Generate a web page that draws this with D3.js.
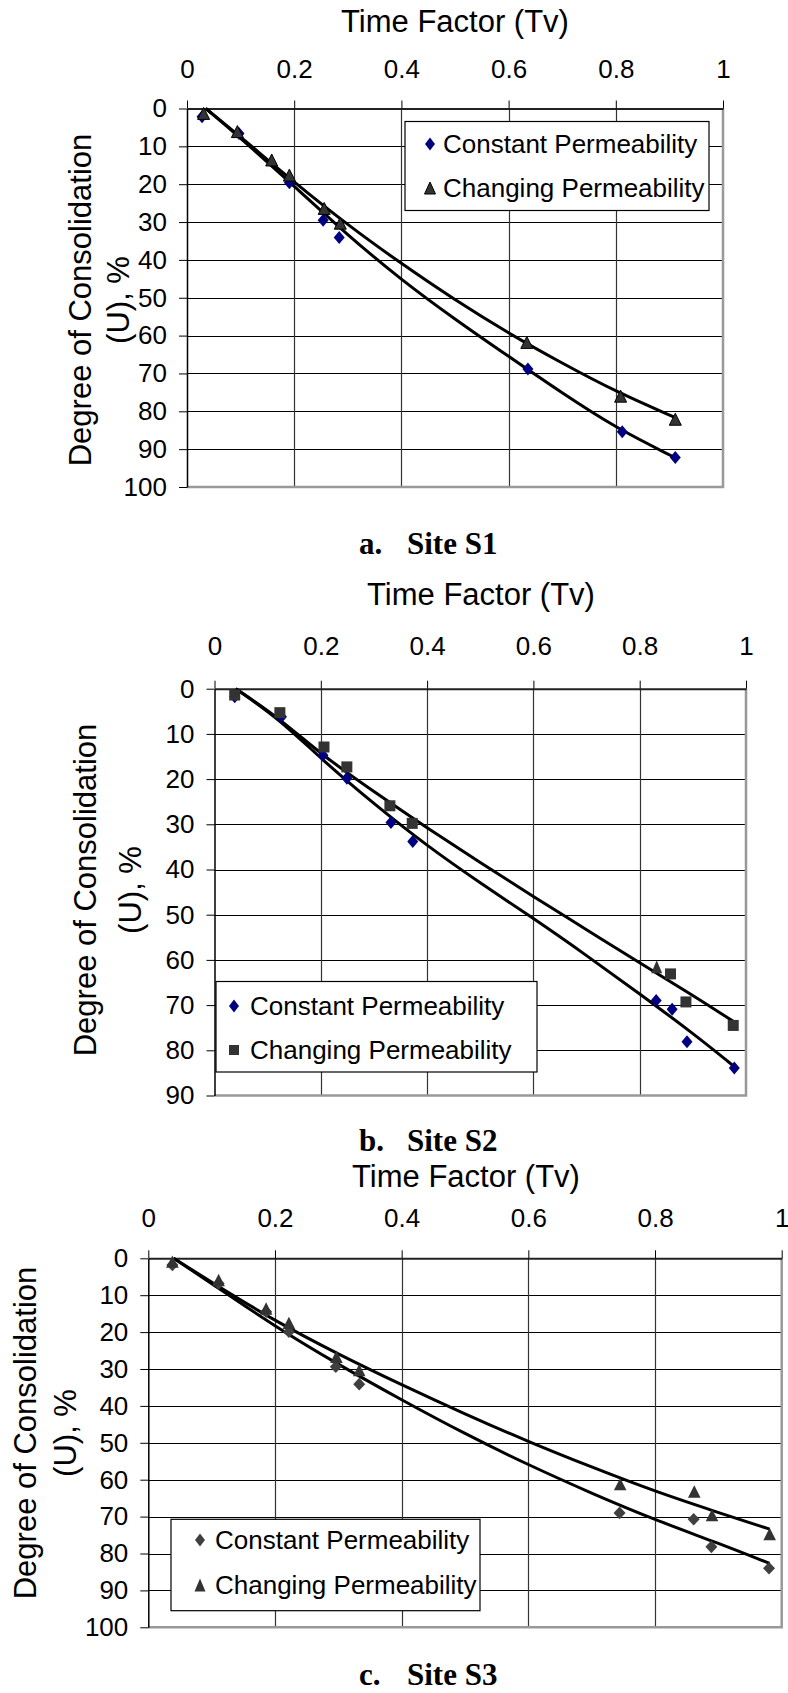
<!DOCTYPE html>
<html>
<head>
<meta charset="utf-8">
<script src="https://cdn.jsdelivr.net/npm/d3@7"></script>
<style>
  body { margin: 0; background: #fff; }
  svg { display: block; }
</style>
</head>
<body>
<svg id="chart" width="788" height="1693"></svg>
<script>
// SHARED
var tvTicks = [0, 0.2, 0.4, 0.6, 0.8, 1];
var uTicks100 = [0, 10, 20, 30, 40, 50, 60, 70, 80, 90, 100];
var uTicks90 = [0, 10, 20, 30, 40, 50, 60, 70, 80, 90];
var seriesNames = ["Constant Permeability", "Changing Permeability"];
var xTitle = "Time Factor (Tv)";
var yTitle = ["Degree of Consolidation", "(U), %"];
var captionLetters = ["a.", "b.", "c."];
var captionSites = ["Site S1", "Site S2", "Site S3"];

// DATA SETS  [Tv, U %]
// Site S1
var s1Constant = [[0.028, 2.2], [0.097, 6.6], [0.191, 19.6], [0.254, 29.5], [0.284, 34.1], [0.636, 68.8], [0.812, 85.4], [0.911, 92.2]];
var s1Changing = [[0.031, 1.3], [0.094, 6.1], [0.158, 13.6], [0.191, 17.6], [0.256, 26.4], [0.286, 30.3], [0.634, 61.8], [0.809, 76.0], [0.911, 82.1]];
var s1ConstantTrend = [[0.035, 0], [0.1, 7.8], [0.2, 20.5], [0.3, 33.5], [0.4, 45.3], [0.5, 55.7], [0.6, 65.5], [0.7, 75.2], [0.8, 84.4], [0.91, 92.2]];
var s1ChangingTrend = [[0.035, 0], [0.1, 7.5], [0.2, 19.5], [0.3, 30.8], [0.4, 41], [0.5, 50.6], [0.6, 59.4], [0.7, 67.3], [0.8, 74.8], [0.91, 81.6]];

// Site S2
var s2Constant = [[0.038, 1.8], [0.126, 6.2], [0.204, 14.7], [0.249, 19.8], [0.332, 29.6], [0.373, 33.8], [0.831, 69.0], [0.861, 70.9], [0.889, 78.1], [0.978, 83.9]];
var s2Changing = [[0.038, 1.4], [0.123, 5.3], [0.206, 12.9], [0.249, 17.3], [0.330, 25.9], [0.372, 29.8], [0.858, 63.1], [0.887, 69.3], [0.976, 74.5]];
var s2ChangingExtra = [[0.832, 61.5]];
var s2ConstantTrend = [[0.04, 0], [0.125, 7], [0.2, 15.5], [0.3, 25.5], [0.4, 34.8], [0.5, 43], [0.6, 50.8], [0.7, 59], [0.8, 67.5], [0.9, 76.2], [0.978, 83.6]];
var s2ChangingTrend = [[0.04, 0], [0.125, 6.8], [0.2, 14.5], [0.3, 22.8], [0.4, 30.8], [0.5, 38.5], [0.6, 46], [0.7, 53.3], [0.8, 60.7], [0.9, 67.8], [0.976, 73.6]];

// Site S3
var s3Constant = [[0.038, 1.8], [0.111, 6.8], [0.186, 14.5], [0.222, 19.9], [0.296, 29.4], [0.333, 34.1], [0.744, 69.0], [0.861, 70.7], [0.889, 78.2], [0.98, 84.0]];
var s3Changing = [[0.038, 0.9], [0.111, 5.9], [0.186, 13.6], [0.222, 17.5], [0.297, 26.7], [0.333, 30.3], [0.745, 61.2], [0.862, 63.2], [0.89, 69.6], [0.981, 74.7]];
var s3ConstantTrend = [[0.04, 0], [0.1, 6.8], [0.2, 18.5], [0.3, 28.8], [0.4, 38.4], [0.5, 47.6], [0.6, 56], [0.7, 63.7], [0.8, 70.9], [0.9, 77.2], [0.981, 82.7]];
var s3ChangingTrend = [[0.04, 0], [0.1, 6.5], [0.2, 17], [0.3, 26], [0.4, 34.3], [0.5, 42.2], [0.6, 49.7], [0.7, 56.6], [0.8, 63.2], [0.9, 68.9], [0.981, 73.4]];

var sans = '"Liberation Sans", Arial, sans-serif';
var serif = '"Liberation Serif", "Times New Roman", serif';

// marker shapes
function diamond(hw, hh) { return `M0,${-hh}L${hw},0L0,${hh}L${-hw},0Z`; }
function triangle(hw, hh) { return `M0,${-hh}L${hw},${hh}L${-hw},${hh}Z`; }
function square(h) { return `M${-h},${-h}H${h}V${h}H${-h}Z`; }

var svg = d3.select("#chart");

function draw_panel(p) {
    var g = svg.append("g");

    var x = d3.scaleLinear()
        .domain([0, 1])
        .range([p.left, p.right]);
    var y = d3.scaleLinear()
        .domain([0, p.uTicks[p.uTicks.length - 1]])
        .range([p.top, p.bottom]);

    // grid
    g.append("g")
        .selectAll("line")
        .data(p.uTicks.slice(1, -1))
        .enter().append("line")
            .attr("x1", p.left).attr("x2", p.right)
            .attr("y1", d => Math.round(y(d)) + 0.5).attr("y2", d => Math.round(y(d)) + 0.5)
            .attr("stroke", "#000").attr("stroke-width", 1.2);
    g.append("g")
        .selectAll("line")
        .data(tvTicks.slice(1, -1))
        .enter().append("line")
            .attr("x1", d => Math.round(x(d)) + 0.5).attr("x2", d => Math.round(x(d)) + 0.5)
            .attr("y1", p.top).attr("y2", p.bottom)
            .attr("stroke", "#333").attr("stroke-width", 1.2);
    // plot border (right and bottom, gray)
    g.append("path")
        .attr("d", `M${x(1)},${p.top}V${y(p.uTicks[p.uTicks.length - 1])}H${p.left}`)
        .attr("fill", "none")
        .attr("stroke", "#999")
        .attr("stroke-width", 2.5);

    // axes
    var xAxis = g.append("g")
        .attr("transform", `translate(0, ${p.top})`)
        .call(d3.axisTop(x).tickValues(tvTicks).tickFormat(d3.format("~g"))
            .tickSize(8).tickSizeOuter(0).tickPadding(p.xLabelGap - 8));
    xAxis.select(".domain").attr("stroke", "#222").attr("stroke-width", 2);
    xAxis.selectAll("text").attr("font-size", 26).attr("font-family", sans);

    var yAxis = g.append("g")
        .attr("transform", `translate(${p.left}, 0)`)
        .call(d3.axisLeft(y).tickValues(p.uTicks).tickSize(8).tickSizeOuter(0).tickPadding(12));
    yAxis.select(".domain").attr("stroke", "#000").attr("stroke-width", 1.5);
    yAxis.selectAll("text").attr("font-size", 26).attr("font-family", sans);

    // titles
    g.append("text")
        .attr("x", p.titleX).attr("y", p.titleY)
        .attr("text-anchor", "middle")
        .attr("font-family", sans).attr("font-size", 31)
        .text(xTitle);
    yTitle.forEach(function (t, i) {
        g.append("text")
            .attr("transform", `translate(${p.yTitleX[i]}, ${p.yTitleY}) rotate(-90)`)
            .attr("text-anchor", "middle")
            .attr("font-family", sans).attr("font-size", 31)
            .text(t);
    });

    // trend lines
    var line = d3.line()
        .curve(d3.curveBasis)
        .x(d => x(d[0]))
        .y(d => y(d[1]));
    p.trends.forEach(function (t) {
        g.append("path")
            .datum(t)
            .attr("fill", "none")
            .attr("stroke", "#000")
            .attr("stroke-width", 3)
            .attr("stroke-linejoin", "round")
            .attr("d", line);
    });

    // markers
    p.series.forEach(function (s) {
        g.append("g")
            .selectAll("path")
            .data(s.data)
            .enter().append("path")
                .attr("transform", d => `translate(${x(d[0])}, ${y(d[1])})`)
                .attr("d", s.shape)
                .attr("fill", s.fill)
                .attr("stroke", s.stroke || "none")
                .attr("stroke-width", 1);
    });

    // legend
    var lg = g.append("g");
    lg.append("rect")
        .attr("x", p.legend.x).attr("y", p.legend.y)
        .attr("width", p.legend.w).attr("height", p.legend.h)
        .attr("fill", "#fff")
        .attr("stroke", "#000")
        .attr("stroke-width", 1.2);
    p.legend.items.forEach(function (s, i) {
        var ry = p.legend.rows[i];
        lg.append("path")
            .attr("transform", `translate(${p.legend.markerX}, ${ry})`)
            .attr("d", s.legendShape)
            .attr("fill", s.fill)
            .attr("stroke", s.stroke || "none");
        lg.append("text")
            .attr("x", p.legend.textX).attr("y", ry)
            .attr("dy", "0.35em")
            .attr("font-family", sans).attr("font-size", 26)
            .text(seriesNames[i]);
    });

    // caption
    var cap = g.append("text")
        .attr("y", p.captionY)
        .attr("font-family", serif).attr("font-size", 31).attr("font-weight", "bold");
    cap.append("tspan").attr("x", 359).text(captionLetters[p.index]);
    cap.append("tspan").attr("x", 407).text(captionSites[p.index]);
}

// PLOT 1
var navyDiamond = {shape: diamond(5.5, 6.5), legendShape: diamond(5, 6.5), fill: "#000080"};
var grayTriangle = {shape: triangle(6, 6), legendShape: triangle(5.5, 6), fill: "#333", stroke: "#000"};

draw_panel({
    index: 0,
    left: 187, right: 723, top: 108.5, bottom: 487,
    uTicks: uTicks100, xLabelGap: 31,
    titleX: 455, titleY: 32,
    yTitleX: [91, 128.5], yTitleY: 300,
    trends: [s1ConstantTrend, s1ChangingTrend],
    series: [
        Object.assign({data: s1Constant}, navyDiamond),
        Object.assign({data: s1Changing}, grayTriangle)
    ],
    legend: {x: 405, y: 121.5, w: 304, h: 89, rows: [144, 188], markerX: 430, textX: 443,
        items: [navyDiamond, grayTriangle]},
    captionY: 554
});

// PLOT 2
var graySquare = {shape: square(5.5), legendShape: square(5), fill: "#333"};
var grayTriangle2 = {shape: triangle(5.5, 6.5), fill: "#333"};

draw_panel({
    index: 1,
    left: 214.5, right: 746, top: 688.7, bottom: 1095.5,
    uTicks: uTicks90, xLabelGap: 34,
    titleX: 481, titleY: 605,
    yTitleX: [96, 141], yTitleY: 890,
    trends: [s2ConstantTrend, s2ChangingTrend],
    series: [
        Object.assign({data: s2Constant}, navyDiamond),
        Object.assign({data: s2ChangingExtra}, grayTriangle2),
        Object.assign({data: s2Changing}, graySquare)
    ],
    legend: {x: 216, y: 981.5, w: 321, h: 90.5, rows: [1006, 1050], markerX: 234, textX: 250,
        items: [navyDiamond, graySquare]},
    captionY: 1151
});

// PLOT 3
var grayDiamond = {shape: diamond(6, 6.3), legendShape: diamond(5, 6.5), fill: "#404040"};
var darkTriangle = {shape: triangle(6.3, 6.2), legendShape: triangle(5.5, 6.5), fill: "#333"};

draw_panel({
    index: 2,
    left: 148.3, right: 781.7, top: 1258.3, bottom: 1627.3,
    uTicks: uTicks100, xLabelGap: 31.5,
    titleX: 466, titleY: 1187,
    yTitleX: [36, 76], yTitleY: 1433,
    trends: [s3ConstantTrend, s3ChangingTrend],
    series: [
        Object.assign({data: s3Constant}, grayDiamond),
        Object.assign({data: s3Changing}, darkTriangle)
    ],
    legend: {x: 171, y: 1519.3, w: 309, h: 91.4, rows: [1540, 1585], markerX: 200, textX: 215,
        items: [grayDiamond, darkTriangle]},
    captionY: 1685
});
</script>
</body>
</html>
